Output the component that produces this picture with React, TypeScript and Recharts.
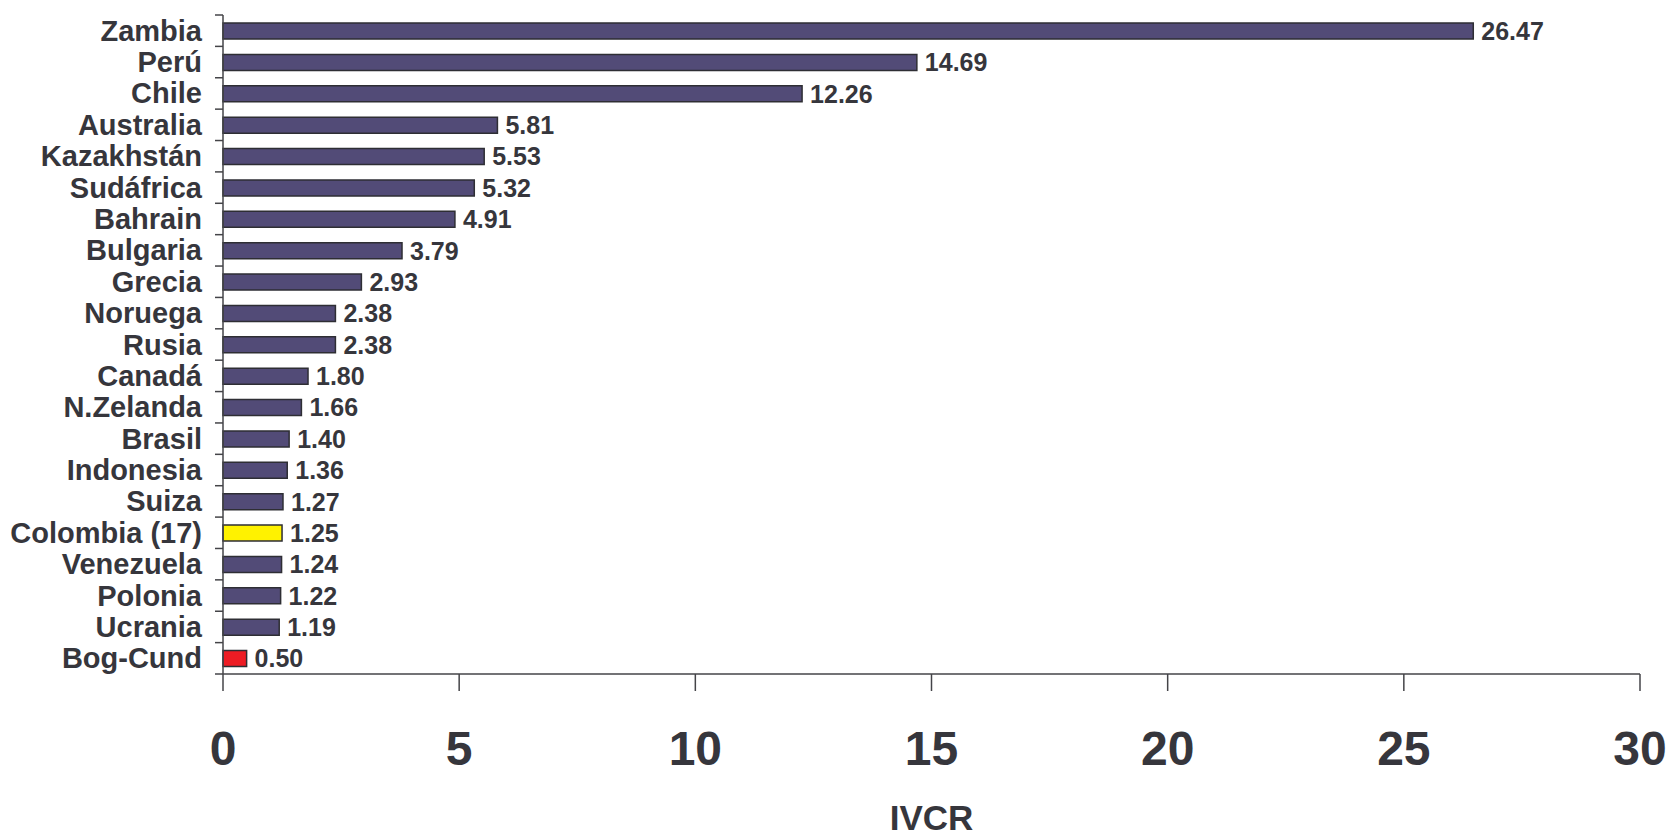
import React from 'react';
import { BarChart, Bar, XAxis, YAxis, Cell, LabelList } from 'recharts';

const categories = ['Zambia','Perú','Chile','Australia','Kazakhstán','Sudáfrica','Bahrain','Bulgaria','Grecia','Noruega','Rusia','Canadá','N.Zelanda','Brasil','Indonesia','Suiza','Colombia (17)','Venezuela','Polonia','Ucrania','Bog-Cund'];
const values = [26.47,14.69,12.26,5.81,5.53,5.32,4.91,3.79,2.93,2.38,2.38,1.80,1.66,1.40,1.36,1.27,1.25,1.24,1.22,1.19,0.50];
const xTicks = [0,5,10,15,20,25,30];
const highlightColors: Record<string,string> = { 'Colombia (17)': '#fff200', 'Bog-Cund': '#ed1c24' };

const data = categories.map((name, i) => ({ name, value: values[i] }));

const W = 1669, H = 839;
const TOP = 15, BOTTOM = 165, LEFT = 223, RIGHT = 29;
const TXT = '#36363c';
const AX = '#444448';
const FONT = '"Liberation Sans", Arial, Helvetica, sans-serif';
const band = (H - TOP - BOTTOM) / categories.length;

const YTick = (props: any) => {
  const { y, payload, index } = props;
  const ax = LEFT;
  return (
    <g>
      <line x1={ax - 8} x2={ax} y1={y - band / 2} y2={y - band / 2} stroke={AX} strokeWidth={1.5} />
      {index === categories.length - 1 && (
        <line x1={ax - 8} x2={ax} y1={y + band / 2} y2={y + band / 2} stroke={AX} strokeWidth={1.5} />
      )}
      <text x={202} y={y} dy={10} textAnchor="end" fontFamily={FONT} fontWeight="bold" fontSize={29} fill={TXT}>
        {payload.value}
      </text>
    </g>
  );
};

const XTick = (props: any) => {
  const { x, payload } = props;
  return (
    <text x={x} y={765} textAnchor="middle" fontFamily={FONT} fontWeight="bold" fontSize={48} fill={TXT}>
      {payload.value}
    </text>
  );
};

export default function App() {
  return (
    <div style={{ position: 'absolute', left: 0, top: 0, width: W, height: H, background: '#fff' }}>
      <BarChart width={W} height={H} data={data} layout="vertical"
        margin={{ top: TOP, right: RIGHT, bottom: 0, left: 0 }} barCategoryGap={0}>
        <XAxis type="number" domain={[0, 30]} ticks={xTicks} interval={0}
          axisLine={{ stroke: AX, strokeWidth: 1.5 }} tickLine={{ stroke: AX, strokeWidth: 1.5 }} tickSize={17}
          tick={<XTick />} height={BOTTOM}
          label={{ value: 'IVCR', position: 'insideBottom', offset: 9, fontFamily: FONT, fontWeight: 'bold', fontSize: 35, fill: TXT }} />
        <YAxis type="category" dataKey="name" width={LEFT} interval={0}
          axisLine={{ stroke: AX, strokeWidth: 1.5 }} tickLine={false} tick={<YTick />} />
        <Bar dataKey="value" barSize={16} isAnimationActive={false} stroke="#2e2e34" strokeWidth={1.5}>
          {data.map((d) => (
            <Cell key={d.name} fill={highlightColors[d.name] || '#524b77'} />
          ))}
          <LabelList dataKey="value" position="right" offset={8}
            formatter={(v: any) => Number(v).toFixed(2)}
            style={{ fontFamily: FONT, fontWeight: 'bold', fontSize: 25, fill: TXT }} />
        </Bar>
      </BarChart>
    </div>
  );
}
